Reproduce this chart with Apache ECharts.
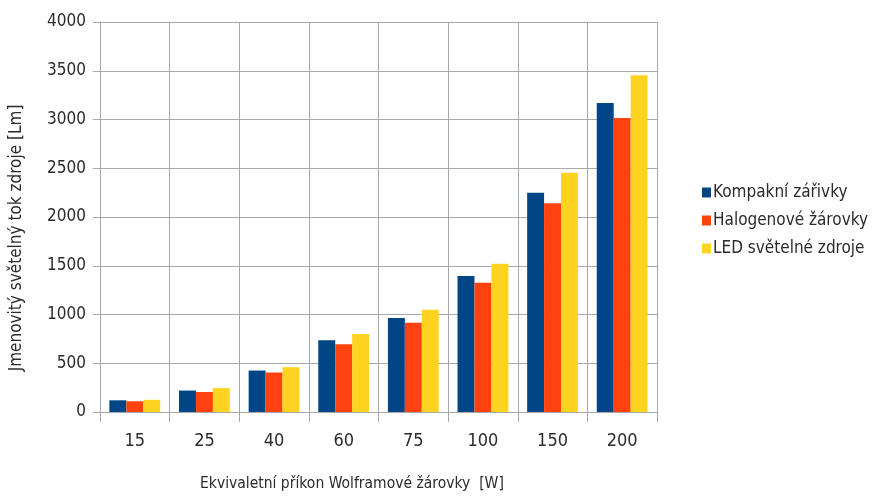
<!DOCTYPE html>
<html>
<head>
<meta charset="utf-8">
<script src="https://cdn.jsdelivr.net/npm/echarts@6/dist/echarts.min.js"></script>
<style>
  html, body { margin: 0; padding: 0; background: #fff; }
  #chart { width: 873px; height: 496px; }
</style>
</head>
<body>
<div id="chart"></div>
<script>
// Equivalent tungsten bulb wattage (W)
const categories = ['15', '25', '40', '60', '75', '100', '150', '200'];

// Rated luminous flux (lm) per light source type
const kompaktni = [120, 220, 425, 735, 965, 1395, 2250, 3170];
const halogenove = [110, 205, 405, 695, 915, 1325, 2140, 3015];
const ledZdroje = [125, 245, 460, 800, 1050, 1520, 2455, 3455];

const seriesNames = ['Kompakní zářivky', 'Halogenové žárovky', 'LED světelné zdroje'];
const yTicks = { min: 0, max: 4000, interval: 500 };

const FONT = '"Liberation Sans Narrow", "DejaVu Sans Condensed", "Liberation Sans", sans-serif';
const TEXT = '#2b2b2b';
const GRID = '#a8a8a8';

const chart = echarts.init(document.getElementById('chart'), null, { renderer: 'canvas' });

chart.setOption({
  backgroundColor: '#ffffff',
  animation: false,
  color: ['#004586', '#ff420e', '#ffd320'],
  grid: { left: 100, right: 216, top: 22, bottom: 84, containLabel: false },
  legend: {
    orient: 'vertical',
    left: 697,
    top: 179,
    itemWidth: 9,
    itemHeight: 10,
    itemGap: 11,
    icon: 'rect',
    textStyle: { fontFamily: FONT, fontSize: 17, color: TEXT, padding: [0, 0, 0, -3] },
    data: seriesNames
  },
  xAxis: {
    type: 'category',
    data: categories,
    boundaryGap: true,
    axisLine: { show: true, lineStyle: { color: GRID, width: 1 } },
    axisTick: { show: true, length: 10, lineStyle: { color: GRID, width: 1 } },
    axisLabel: { fontFamily: FONT, fontSize: 18, color: TEXT, margin: 20 },
    splitLine: { show: true, lineStyle: { color: GRID, width: 1 } }
  },
  yAxis: {
    type: 'value',
    min: yTicks.min,
    max: yTicks.max,
    interval: yTicks.interval,
    axisLine: { show: true, lineStyle: { color: GRID, width: 1 } },
    axisTick: { show: true, length: 7, lineStyle: { color: GRID, width: 1 } },
    axisLabel: {
      fontFamily: FONT, fontSize: 17, color: TEXT, margin: 14,
      formatter: (v) => String(v)
    },
    splitLine: { show: true, lineStyle: { color: GRID, width: 1 } }
  },
  graphic: [
    {
      type: 'text',
      left: 200,
      top: 476,
      style: {
        text: 'Ekvivaletní příkon Wolframové žárovky  [W]',
        fontFamily: FONT, fontSize: 15.5, fill: TEXT
      }
    },
    {
      type: 'text',
      x: 8,
      y: 238,
      rotation: Math.PI / 2,
      style: {
        text: 'Jmenovitý světelný tok zdroje [Lm]',
        fontFamily: FONT, fontSize: 17, fill: TEXT,
        align: 'center', verticalAlign: 'top'
      }
    }
  ],
  series: [
    { name: seriesNames[0], type: 'bar', data: kompaktni, barGap: '0%', barCategoryGap: '27%' },
    { name: seriesNames[1], type: 'bar', data: halogenove, barGap: '0%', barCategoryGap: '27%' },
    { name: seriesNames[2], type: 'bar', data: ledZdroje, barGap: '0%', barCategoryGap: '27%' }
  ]
});
</script>
</body>
</html>
